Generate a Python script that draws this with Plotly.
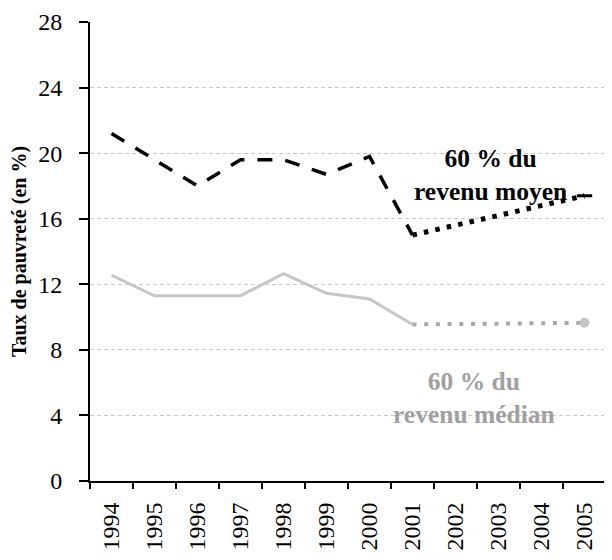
import plotly.graph_objects as go

years = ["1994", "1995", "1996", "1997", "1998", "1999", "2000", "2001", "2002", "2003", "2004", "2005"]
moyen = [21.2, 19.6, 18.0, 19.6, 19.6, 18.7, 19.8, 15.0, None, None, None, 17.4]
median = [12.55, 11.3, 11.3, 11.3, 12.65, 11.45, 11.1, 9.55, None, None, None, 9.65]
y_ticks = [0, 4, 8, 12, 16, 20, 24, 28]
label_moyen = "<b>60 % du<br>revenu moyen</b>"
label_median = "<b>60 % du<br>revenu médian</b>"
y_title = "<b>Taux de pauvreté (en %)</b>"

FONT = "Liberation Serif"
fig = go.Figure()

# 60 % du revenu médian
fig.add_trace(go.Scatter(x=years[:8], y=median[:8], mode="lines",
                         line=dict(color="#C6C6C6", width=3), hoverinfo="skip"))
fig.add_trace(go.Scatter(x=years[7:], y=median[7:], mode="lines", connectgaps=True,
                         line=dict(color="#A8A8A8", width=4, dash="4px,7.7px"), hoverinfo="skip"))
fig.add_trace(go.Scatter(x=[years[-1]], y=[median[-1]], mode="markers",
                         marker=dict(color="#C6C6C6", size=10, symbol="circle"), hoverinfo="skip"))

# 60 % du revenu moyen
fig.add_trace(go.Scatter(x=years[:8], y=moyen[:8], mode="lines",
                         line=dict(color="black", width=3.5, dash="15px,13px"), hoverinfo="skip"))
fig.add_trace(go.Scatter(x=years[7:], y=moyen[7:], mode="lines", connectgaps=True,
                         line=dict(color="black", width=5, dash="4.5px,7.2px"), hoverinfo="skip"))
fig.add_trace(go.Scatter(x=[years[-1]], y=[moyen[-1]], mode="markers",
                         marker=dict(color="black", size=11, symbol="line-ew",
                                     line=dict(color="black", width=3)), hoverinfo="skip"))

fig.add_annotation(x=9, y=18.67, xref="x", yref="y", xshift=-8, text=label_moyen, showarrow=False,
                   font=dict(family=FONT, size=25.5, color="black"), xanchor="center",
                   yanchor="middle", align="center")
fig.add_annotation(x=9, y=5.06, xref="x", yref="y", xshift=-25, text=label_median, showarrow=False,
                   font=dict(family=FONT, size=25.5, color="#A0A0A0"), xanchor="center",
                   yanchor="middle", align="center")

# the page body has an 8px margin, so the figure is shrunk by 8px
fig.update_layout(
    width=604, height=552,
    margin=dict(l=82, r=6, t=14, b=79),
    paper_bgcolor="white", plot_bgcolor="white",
    showlegend=False,
    font=dict(family=FONT, size=24, color="black"),
)
fig.update_xaxes(type="category", categoryorder="array", categoryarray=years,
                 range=[-0.5, 11.5], tickson="boundaries", ticks="outside", ticklen=6,
                 tickcolor="black", tickwidth=1.5, showline=True, linecolor="black", linewidth=2,
                 showgrid=False, tickangle=-90, tickfont=dict(family=FONT, size=24),
                 ticklabelstandoff=10, automargin=False)
fig.update_yaxes(range=[0, 28], tickvals=y_ticks, ticks="outside", ticklen=9,
                 tickcolor="black", tickwidth=1.5, showline=True, linecolor="black", linewidth=2,
                 showgrid=True, gridcolor="#C8C8C8", gridwidth=1, griddash="4px,3px",
                 zeroline=False, tickfont=dict(family=FONT, size=24), ticklabelstandoff=12,
                 ticklabeloverflow="allow", automargin=False,
                 title=dict(text=y_title, font=dict(family=FONT, size=20), standoff=10))

fig.write_html("out.html")
